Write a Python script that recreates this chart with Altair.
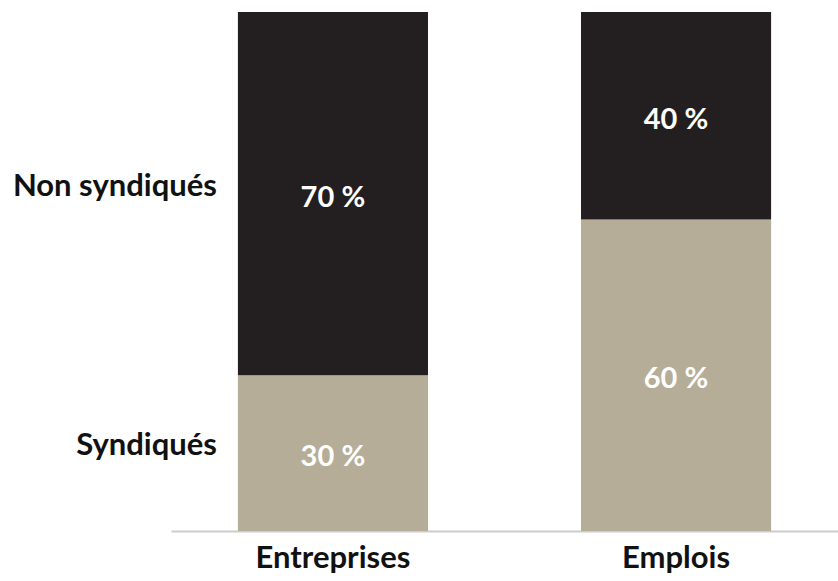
import altair as alt
import pandas as pd

categories = ["Entreprises", "Emplois"]
groups = ["Syndiqués", "Non syndiqués"]
syndiques = [30, 60]
non_syndiques = [70, 40]

rows = []
for i, cat in enumerate(categories):
    start = 0
    for g, vals in zip(groups, [syndiques, non_syndiques]):
        v = vals[i]
        rows.append({"cat": cat, "group": g, "value": v,
                     "start": start, "end": start + v, "mid": start + v / 2,
                     "label": f"{v}\u202f%"})
        start += v
df = pd.DataFrame(rows)

FONT = "Lato"
colors = ["#b5ad98", "#231f20"]

x = alt.X("cat:N", sort=categories, title=None,
          scale=alt.Scale(paddingInner=0.446, paddingOuter=0.195),
          axis=alt.Axis(labelAngle=0, ticks=False, domainColor="#cccccc", domainWidth=2,
                        labelFont=FONT, labelFontSize=31, labelFontWeight="bold",
                        labelColor="#111111", labelPadding=12))
yscale = alt.Scale(domain=[0, 100])

bars = alt.Chart(df).mark_bar().encode(
    x=x,
    y=alt.Y("start:Q", scale=yscale, axis=None),
    y2="end:Q",
    color=alt.Color("group:N", scale=alt.Scale(domain=groups, range=colors), legend=None),
)

values = alt.Chart(df).mark_text(font=FONT, fontSize=29, fontWeight="bold", color="white",
                                 baseline="middle", dy=4).encode(
    x=alt.X("cat:N", sort=categories),
    y=alt.Y("mid:Q", scale=yscale),
    text="label:N",
)

left = alt.Chart(df[df["cat"] == categories[0]]).mark_text(
    font=FONT, fontSize=31, fontWeight="bold", color="#111111",
    align="right", baseline="middle", dy=-7).encode(
    x=alt.value(46),
    y=alt.Y("mid:Q", scale=yscale),
    text="group:N",
)

chart = alt.layer(bars, values, left).properties(
    width=667, height=519,
    autosize=alt.AutoSizeParams(type="none"),
    padding={"left": 171, "top": 12, "right": 0, "bottom": 50},
    background="white",
).configure_view(stroke=None)

chart.save("out.html", embed_options={"renderer": "svg", "actions": False})
